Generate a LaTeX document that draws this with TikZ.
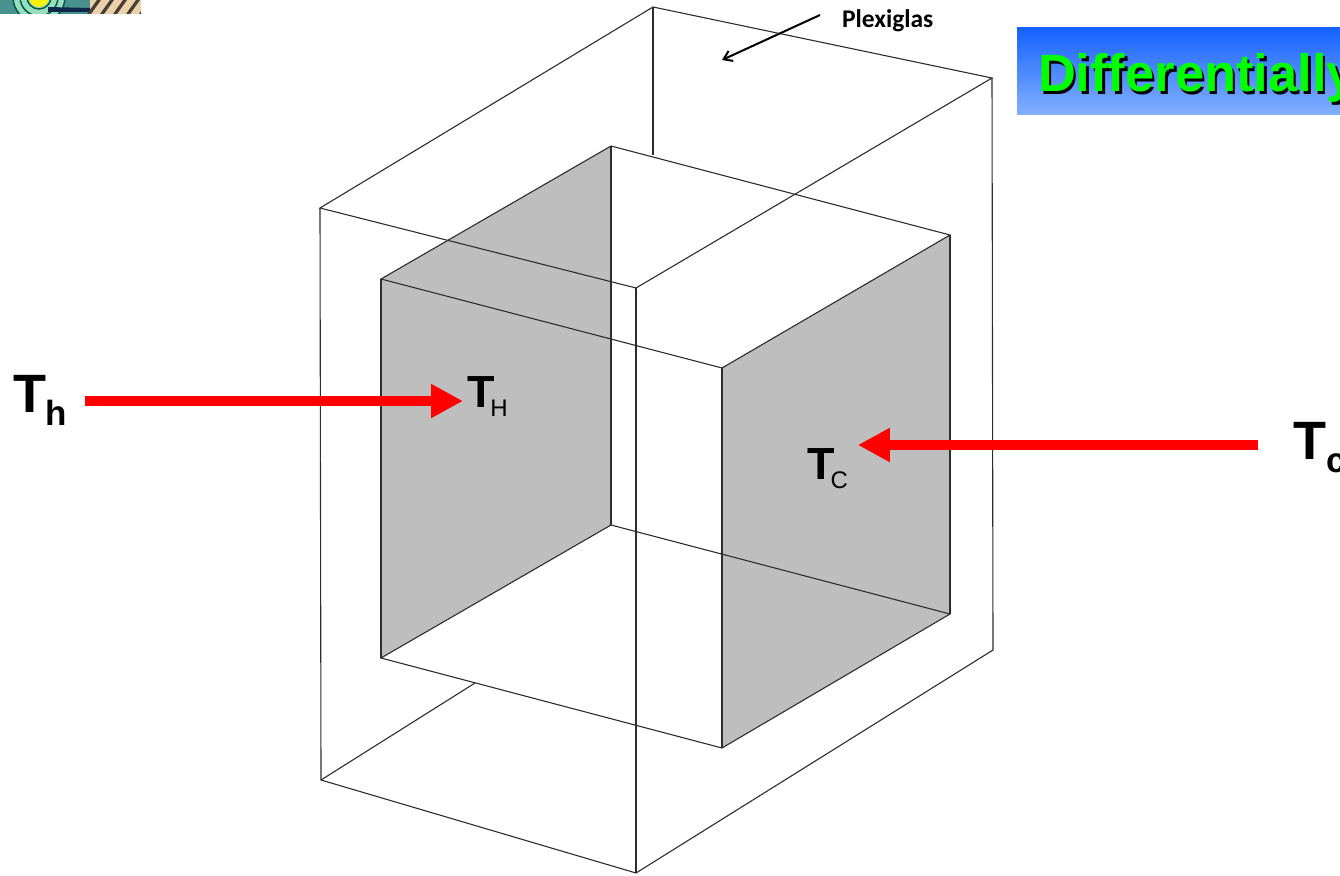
\documentclass[tikz,border=0pt]{standalone}
\usepackage{xcolor}
\usepackage{fontspec}
\setmainfont{Liberation Sans}
\newfontfamily\plexifont{Carlito}
\usetikzlibrary{arrows.meta, calc}
\definecolor{myline}{RGB}{45,45,45}
\definecolor{mygray}{RGB}{190,190,190}
\definecolor{myred}{RGB}{255,0,0}
\definecolor{mygreen}{RGB}{0,255,0}
\definecolor{hdrtop}{RGB}{22,98,255}
\definecolor{hdrbot}{RGB}{130,176,255}
\definecolor{logoteal}{RGB}{72,145,140}
\definecolor{logopale}{RGB}{150,222,190}
\definecolor{logodark}{RGB}{10,90,70}
\definecolor{logotan}{RGB}{236,208,172}
\definecolor{logonavy}{RGB}{15,40,75}
\newcommand{\bigtemp}[1]{\textbf{\fontsize{54}{54}\selectfont T\fontsize{35}{35}\selectfont\raisebox{-13pt}{#1}}}
\newcommand{\smalltemp}[1]{\textbf{\fontsize{45}{45}\selectfont T}\kern-4pt\fontsize{24}{24}\selectfont\raisebox{-9pt}{#1}}
\tikzset{
  edge/.style={color=myline, line width=1.1pt},
  face/.style={fill=mygray, draw=none},
  heatarrow/.style={-{Triangle[length=32pt, width=32pt]}, color=myred, line width=10pt},
  leader/.style={-{Straight Barb[length=8pt, width=11pt]}, color=black, line width=2pt},
  templabel/.style={anchor=base west, inner sep=0pt, outer sep=0pt, text=black},
  titletext/.style={templabel, font=\bfseries\fontsize{52.5}{52.5}\selectfont}
}

\begin{document}
\begin{tikzpicture}[x=1pt, y=-1pt]
  \useasboundingbox (0,0) rectangle (1340,875);
  % ── Logo fragment (top left) ───────────────────────────────────────────────
  \begin{scope}
    \clip (0,0) rectangle (141,14);
    \fill[logoteal] (0,0) rectangle (90,14);
    \fill[logotan] (90,0) rectangle (141,14);
    \foreach \r in {26,19,12} {
      \fill[logopale] (39,-3) circle (\r);
      \draw[logodark, line width=1.5pt] (39,-3) circle (\r);
    }
    \fill[logonavy] (48,7) -- (90,8) -- (90,12) -- (48,12) -- cycle;
    \foreach \x in {90,103,116,129,142} {
      \fill[black!70!logotan] (\x-3,14) -- (\x+1,14) -- (\x+11,0) -- (\x+7,0) -- cycle;
    }
    \fill[yellow] (39,-3) circle (10);
  \end{scope}

  % ── Inner box faces ────────────────────────────────────────────────────────
  \coordinate (ia) at (381,279);
  \coordinate (ib) at (611,146);
  \coordinate (ic) at (950,235);
  \coordinate (id) at (722,368);
  \coordinate (ie) at (381,658);
  \coordinate (if) at (611,525);
  \coordinate (ig) at (950,614);
  \coordinate (ih) at (722,748);
  \fill[face] (ia) -- (ib) -- (if) -- (ie) -- cycle;
  \fill[face] (id) -- (ic) -- (ig) -- (ih) -- cycle;
  \draw[edge] (ia) -- (ib) -- (ic) -- (id) -- cycle;
  \draw[edge] (ie) -- (if) -- (ig) -- (ih) -- cycle;
  \draw[edge] (ia) -- (ie);
  \draw[edge] (ib) -- (if);
  \draw[edge] (ic) -- (ig);
  \draw[edge] (id) -- (ih);

  % ── Outer Plexiglas box ────────────────────────────────────────────────────
  \coordinate (oa) at (320,208);
  \coordinate (ob) at (653,7);
  \coordinate (oc) at (992,78);
  \coordinate (od) at (636,288);
  \coordinate (oe) at (321,780);
  \coordinate (og) at (993,650);
  \coordinate (oh) at (636,873);
  \draw[edge] (oa) -- (ob) -- (oc) -- (od) -- cycle;
  \draw[edge] (oa) -- (oe) -- (oh) -- (og) -- (oc);
  \draw[edge] (od) -- (oh);
  % back edges stop where they meet the inner box
  \draw[edge] (ob) -- (653,155);
  \draw[edge] (oe) -- (475,683);

  % ── Plexiglas label ────────────────────────────────────────────────────────
  \node[templabel, font=\plexifont\bfseries\fontsize{25.5}{25.5}\selectfont] (nPlexi) at (842,28) {Plexiglas};
  \coordinate (plexiStart) at (820,15);
  \coordinate (plexiEnd) at (722,60);
  \draw[leader] (plexiStart) -- (plexiEnd);

  % ── Temperature labels and arrows ──────────────────────────────────────────
  \node[templabel] (nTh) at (13,412) {\bigtemp{h}};
  \node[templabel] (nTH) at (467,407) {\smalltemp{H}};
  \node[templabel] (nTc) at (1293,459) {\bigtemp{c}};
  \node[templabel] (nTC) at (807,479) {\smalltemp{C}};
  \coordinate (hotStart) at (85,401);
  \coordinate (coldStart) at (1258,445);
  \draw[heatarrow] (hotStart) -- ($(hotStart -| nTH.west)+(-4,0)$);
  \draw[heatarrow] (coldStart) -- ($(coldStart -| nTC.east)+(10,0)$);

  % ── Title banner (runs off the page) ───────────────────────────────────────
  \shade[top color=hdrtop, bottom color=hdrbot] (1017,28) rectangle (1340,114);
  \node[titletext, text=black] (nTitleShadow) at (1040.5,94.5) {Differentially};
  \node[titletext, text=mygreen] (nTitle) at (1038,92) {Differentially};
\end{tikzpicture}
\end{document}
